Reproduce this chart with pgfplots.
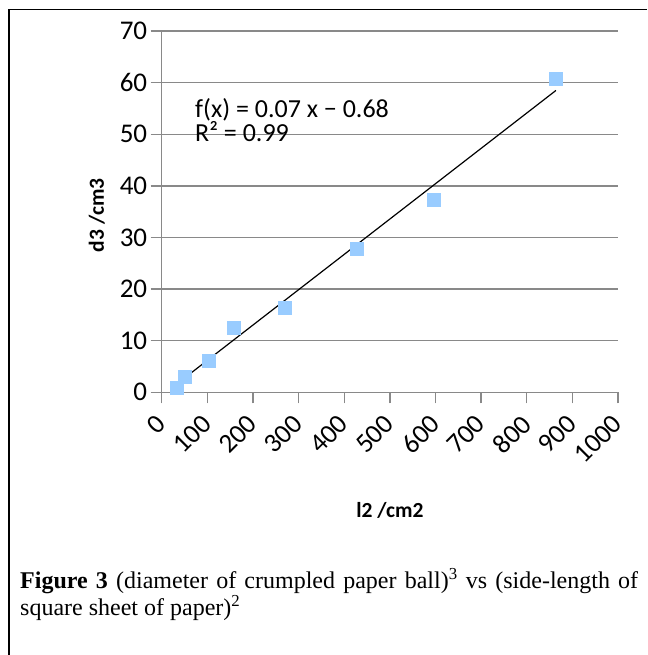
\documentclass[border=0pt]{standalone}
\usepackage{pgfplots}
\pgfplotsset{compat=1.18}
\usepackage{fontspec}
\setmainfont{Liberation Serif}
\newfontfamily\chartfont{Carlito}
\definecolor{gridgray}{RGB}{137,137,137}
\definecolor{markblue}{RGB}{153,204,255}

\begin{document}
\begin{tikzpicture}[x=1pt,y=1pt]
\useasboundingbox (0,0) rectangle (647,655);
% frame (top and left only)
\draw[line width=1.3pt] (9,0) -- (9,645.5) -- (647,645.5);
\begin{axis}[
    at={(161.7pt,262.7pt)}, anchor=south west,
    scale only axis, width=456.3pt, height=361.2pt,
    xmin=0, xmax=1000, ymin=0, ymax=70,
    xtick={0,100,...,1000}, ytick={0,10,...,70},
    axis lines=left, axis line style={-, gridgray, line width=1.3pt},
    ymajorgrids, grid style={gridgray, line width=1.3pt},
    tick style={gridgray, line width=1.3pt},
    tick align=outside, major tick length=11pt,
    /pgf/number format/assume math mode=true,
    /pgf/number format/1000 sep={},
    tick label style={font=\chartfont\fontsize{27}{30}\selectfont},
    xticklabel style={xshift=-7pt, yshift=-5pt, rotate=45, anchor=north east},
    label style={font=\chartfont\bfseries\fontsize{21.5}{24}\selectfont},
    xlabel={l2 /cm2}, ylabel={d3 /cm3},
    xlabel style={at={(axis description cs:0.5,-0.326)}, anchor=center},
    ylabel style={at={(axis description cs:-0.142,0.49)}, anchor=center, rotate=0},
    clip=false,
]
\addplot[only marks, mark=square*, mark size=6.5pt, markblue] coordinates {
    (33,0.8) (51,3.0) (102,6.1) (157,12.5) (269,16.4) (428,27.8) (595,37.3) (864,60.7)
};
\addplot[black, line width=1.2pt] coordinates {(33,1.6) (864,58.5)};
\node[anchor=base west, inner sep=0, font=\chartfont\fontsize{26}{30}\selectfont] at (axis cs:73,53.3) {f(x) = 0.07 x − 0.68};
\node[anchor=base west, inner sep=0, font=\chartfont\fontsize{26}{30}\selectfont] at (axis cs:73,48.6) {R² = 0.99};
\end{axis}
\node[anchor=base west, inner sep=0, text width=618pt, align=justify, font=\fontsize{24}{24.5}\selectfont] at (20,66)
  {\textbf{Figure 3} (diameter of crumpled paper ball)\textsuperscript{3} vs (side-length of square sheet of paper)\textsuperscript{2}};
\end{tikzpicture}
\end{document}
